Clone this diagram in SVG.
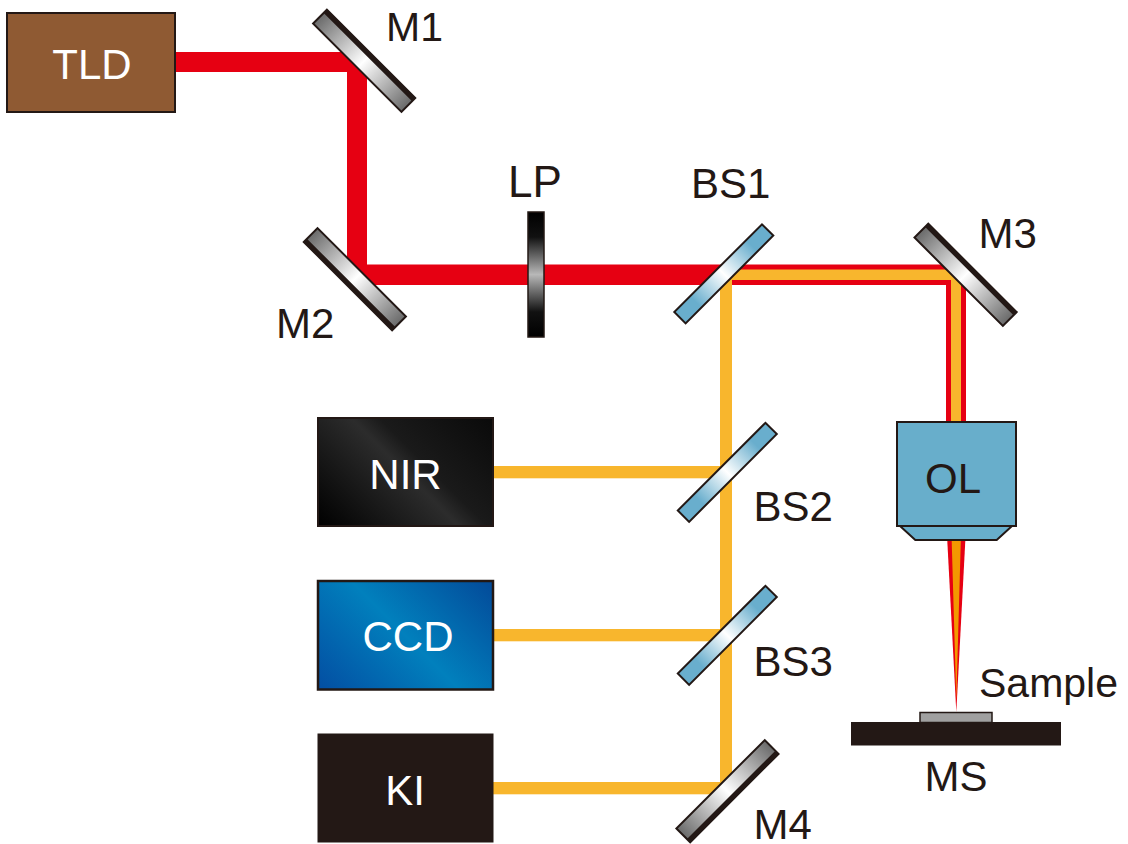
<svg xmlns="http://www.w3.org/2000/svg" width="1128" height="844" viewBox="0 0 1128 844">
<style>
text{font-family:"Liberation Sans",Arial,sans-serif;font-size:42px;fill:#231815}
.w{fill:#fff}
.red{fill:#e60012}
.yel{fill:#f8b62d}
.org{fill:#f39800}
.edge{stroke:#231815;stroke-width:2;stroke-linejoin:miter}
.band{fill:#231815}
</style>
<defs>
<linearGradient id="mirror" x1="0" y1="0" x2="1" y2="0">
<stop offset="0" stop-color="#6a6a6a"/><stop offset=".5" stop-color="#fff"/><stop offset="1" stop-color="#6a6a6a"/>
</linearGradient>
<linearGradient id="split" x1="0" y1="0" x2="1" y2="0">
<stop offset="0" stop-color="#69aecd"/><stop offset=".18" stop-color="#69aecd"/><stop offset=".5" stop-color="#fff"/><stop offset=".82" stop-color="#69aecd"/><stop offset="1" stop-color="#69aecd"/>
</linearGradient>
<linearGradient id="lp" x1="0" y1="0" x2="0" y2="1">
<stop offset="0" stop-color="#000"/><stop offset=".2" stop-color="#111"/><stop offset=".5" stop-color="#b8b8b8"/><stop offset=".8" stop-color="#111"/><stop offset="1" stop-color="#000"/>
</linearGradient>
<linearGradient id="nir" gradientUnits="userSpaceOnUse" x1="334.300" y1="542.700" x2="475.700" y2="401.300">
<stop offset="0" stop-color="#000"/><stop offset=".5" stop-color="#2c2c2c"/><stop offset=".6" stop-color="#1a1a1a"/><stop offset="1" stop-color="#0a0a0a"/>
</linearGradient>
<linearGradient id="ccd" gradientUnits="userSpaceOnUse" x1="334.300" y1="705.700" x2="475.700" y2="564.300">
<stop offset="0" stop-color="#034ea2"/><stop offset=".5" stop-color="#0180bd"/><stop offset="1" stop-color="#034a99"/>
</linearGradient>
</defs>
<g id="connectors">
<polygon class="red" points="175,52 367,52 367,264.500 720,264.500 720,285 347,285 347,72 175,72"/>
<polygon class="red" points="720,264.500 966,264.500 966,430 946,430 946,285 720,285"/>
<polygon class="yel" points="720,269.500 961,269.500 961,430 951,430 951,280 732,280 732,790 720,790"/>
<rect class="yel" x="493" y="466" width="230" height="12.300"/>
<rect class="yel" x="493" y="629" width="230" height="12.300"/>
<rect class="yel" x="493" y="782" width="230" height="12.300"/>
</g>
<g id="TLD"><rect x="7" y="13" width="168" height="99" fill="#8f5a33" stroke="#231815" stroke-width="2"/><text class="w" x="92" y="79" text-anchor="middle">TLD</text></g>
<g id="M1"><g transform="translate(364,61) rotate(45)"><rect x="-62.500" y="-10" width="125" height="19.500" fill="url(#mirror)" class="edge"/><rect class="band" x="-62.500" y="-10" width="125" height="4.500"/></g><text x="386" y="41" style="font-size:41px">M1</text></g>
<g id="M2"><g transform="translate(355,279) rotate(45)"><rect x="-62.500" y="-9.500" width="125" height="19.500" fill="url(#mirror)" class="edge"/><rect class="band" x="-62.500" y="5.500" width="125" height="4.500"/></g><text x="276" y="338">M2</text></g>
<g id="M3"><g transform="translate(965.400,275) rotate(45)"><rect x="-62.500" y="-10" width="125" height="19.500" fill="url(#mirror)" class="edge"/><rect class="band" x="-62.500" y="-10" width="125" height="4.500"/></g><text x="978.500" y="248">M3</text></g>
<g id="M4"><g transform="translate(727.300,791) rotate(-45)"><rect x="-62.500" y="-9.500" width="125" height="19.500" fill="url(#mirror)" class="edge"/><rect class="band" x="-62.500" y="5.500" width="125" height="4.500"/></g><text x="753.500" y="839">M4</text></g>
<g id="LP"><rect x="528" y="212" width="16" height="125" fill="url(#lp)" stroke="#231815" stroke-width="1.500"/><text x="508" y="197" style="font-size:44px">LP</text></g>
<g id="BS1"><g transform="translate(723.800,273.800) rotate(-45)"><rect x="-62" y="-8" width="124" height="16" fill="url(#split)" class="edge"/></g><text x="691" y="198">BS1</text></g>
<g id="BS2"><g transform="translate(727.300,472.300) rotate(-45)"><rect x="-62" y="-8" width="124" height="16" fill="url(#split)" class="edge"/></g><text x="753.500" y="521">BS2</text></g>
<g id="BS3"><g transform="translate(727.300,635.300) rotate(-45)"><rect x="-62" y="-8" width="124" height="16" fill="url(#split)" class="edge"/></g><text x="753.500" y="676">BS3</text></g>
<g id="NIR"><rect x="318" y="418" width="175" height="108" fill="url(#nir)" stroke="#231815" stroke-width="2"/><text class="w" x="405.500" y="489" text-anchor="middle">NIR</text></g>
<g id="CCD"><rect x="318" y="581" width="175" height="108.500" fill="url(#ccd)" stroke="#231815" stroke-width="2.500"/><text class="w" x="408" y="651" text-anchor="middle">CCD</text></g>
<g id="KI"><rect x="317.500" y="733.500" width="176" height="109" fill="#231815"/><text class="w" x="405" y="805" text-anchor="middle">KI</text></g>
<g id="OL"><polygon points="900,526 1012,526 996.700,540 915.300,540" fill="#68aecb" stroke="#231815" stroke-width="2"/><rect x="897" y="422" width="119" height="104" fill="#68aecb" stroke="#231815" stroke-width="2"/><text x="953" y="493" text-anchor="middle">OL</text></g>
<g id="beam"><polygon class="red" points="947.300,541 965.300,541 956.300,712"/><polygon class="org" points="951.700,541 960.800,541 956.300,700"/></g>
<g id="Sample"><rect x="920" y="712.500" width="72" height="10" fill="#a0a0a0" stroke="#231815" stroke-width="1.500"/><text x="979" y="697" style="font-size:41px">Sample</text></g>
<g id="MS"><rect x="851" y="722" width="210" height="23.500" fill="#231815"/><text x="924.500" y="791">MS</text></g>
</svg>
